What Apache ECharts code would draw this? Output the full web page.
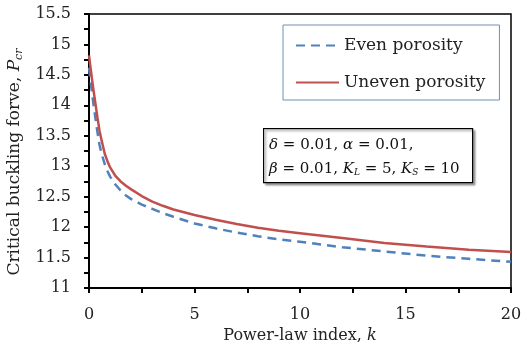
<!DOCTYPE html>
<html>
<head>
<meta charset="utf-8">
<script src="https://cdn.jsdelivr.net/npm/echarts@6/dist/echarts.min.js"></script>
<style>
  html, body { margin: 0; padding: 0; background: #fff; }
  #chart { width: 522px; height: 342px; }
</style>
</head>
<body>
<div id="chart"></div>
<script>
// power-law index k
const kValues = [0, 0.05, 0.1, 0.15, 0.2, 0.3, 0.4, 0.5, 0.6, 0.75, 0.9, 1, 1.25, 1.5, 1.75, 2, 2.5, 3, 3.5, 4, 5, 6, 7, 8, 9, 10, 12, 14, 16, 18, 20]
// critical buckling force
const evenPorosity = [14.62, 14.47, 14.32, 14.18, 14.05, 13.8, 13.56, 13.35, 13.2, 13.03, 12.9, 12.83, 12.7, 12.6, 12.52, 12.46, 12.37, 12.3, 12.23, 12.17, 12.06, 11.98, 11.91, 11.85, 11.8, 11.76, 11.67, 11.6, 11.53, 11.48, 11.43]
const unevenPorosity = [14.82, 14.68, 14.55, 14.41, 14.28, 14.04, 13.8, 13.58, 13.42, 13.2, 13.06, 12.98, 12.84, 12.75, 12.68, 12.62, 12.51, 12.42, 12.35, 12.29, 12.2, 12.12, 12.05, 11.99, 11.94, 11.9, 11.82, 11.74, 11.68, 11.63, 11.59]
const seriesNames = ['Even porosity', 'Uneven porosity']

const font = '"DejaVu Serif", serif'
const pair = (ys) => kValues.map((k, i) => [k, ys[i]])

const chart = echarts.init(document.getElementById('chart'))
chart.setOption({
  animation: false,
  textStyle: { fontFamily: font },
  grid: {
    left: 89, right: 11, top: 14, bottom: 54,
    outerBoundsMode: 'none',
    show: true, borderColor: '#000', borderWidth: 1.5
  },
  xAxis: {
    type: 'value',
    min: 0,
    max: 20,
    interval: 5,
    name: 'Power-law index, {i|k}',
    nameLocation: 'middle',
    nameGap: 34,
    nameTextStyle: {
      color: '#222', fontSize: 16, fontFamily: font,
      rich: { i: { fontStyle: 'italic', fontSize: 16, fontFamily: font, color: '#222' } }
    },
    axisLine: { lineStyle: { color: '#000', width: 2 } },
    axisTick: { inside: false, length: 5, lineStyle: { color: '#000', width: 2 } },
    minorTick: { show: true, splitNumber: 2, length: 5, lineStyle: { color: '#000', width: 2 } },
    axisLabel: { color: '#222', fontSize: 16, margin: 19, fontFamily: font },
    splitLine: { show: false }
  },
  yAxis: {
    type: 'value',
    min: 11,
    max: 15.5,
    interval: 0.5,
    name: '{a|Critical buckling forve, }{p|P}{s|cr}',
    nameLocation: 'middle',
    nameGap: 64,
    nameTextStyle: {
      color: '#222', fontSize: 17, fontFamily: font, padding: [0, 22, 0, 0],
      rich: {
        a: { fontSize: 17, fontFamily: font, color: '#222' },
        p: { fontSize: 17, fontStyle: 'italic', fontFamily: font, color: '#222' },
        s: { fontSize: 11, fontStyle: 'italic', fontFamily: font, color: '#222', padding: [8, 0, 0, 0] }
      }
    },
    axisLine: { show: true, lineStyle: { color: '#000', width: 2 } },
    axisTick: { inside: false, length: 5, lineStyle: { color: '#000', width: 2 } },
    minorTick: { show: true, splitNumber: 2, length: 5, lineStyle: { color: '#000', width: 2 } },
    axisLabel: { color: '#222', fontSize: 16, margin: 18, fontFamily: font },
    splitLine: { show: false }
  },
  legend: {
    orient: 'vertical',
    left: 283,
    top: 25,
    padding: [12, 14, 9, 12],
    itemWidth: 43,
    itemHeight: 14,
    itemGap: 20,
    borderColor: '#6f8fb8',
    borderWidth: 1,
    itemStyle: { opacity: 0 },
    textStyle: { fontSize: 17, color: '#222', fontFamily: font },
    data: seriesNames
  },
  graphic: [
    {
      type: 'rect',
      left: 263,
      top: 128,
      shape: { width: 209, height: 54 },
      style: { fill: '#fff', stroke: '#000', lineWidth: 1.2, shadowColor: 'rgba(0,0,0,0.35)', shadowBlur: 2, shadowOffsetX: 2, shadowOffsetY: 2 },
      z: 10
    },
    {
      type: 'text',
      left: 269,
      top: 133,
      z: 11,
      style: {
        text: '{g|δ} = 0.01, {g|α} = 0.01,\n{g|β} = 0.01, {g|K}{s|L} = 5, {g|K}{s|S} = 10',
        font: '15px ' + font,
        fill: '#111',
        lineHeight: 24,
        rich: {
          g: { fontStyle: 'italic', fontSize: 15, fontFamily: font, lineHeight: 24 },
          s: { fontStyle: 'italic', fontSize: 9, fontFamily: font, padding: [8, 0, 0, 0], lineHeight: 24 }
        }
      }
    }
  ],
  series: [
    {
      name: seriesNames[0],
      type: 'line',
      data: pair(evenPorosity),
      smooth: false,
      symbol: 'none',
      lineStyle: { color: '#4f81bd', width: 2.5, type: [9, 6] },
      itemStyle: { color: '#4f81bd' }
    },
    {
      name: seriesNames[1],
      type: 'line',
      data: pair(unevenPorosity),
      smooth: false,
      symbol: 'none',
      lineStyle: { color: '#c0504d', width: 2.5 },
      itemStyle: { color: '#c0504d' }
    }
  ]
})
</script>
</body>
</html>
